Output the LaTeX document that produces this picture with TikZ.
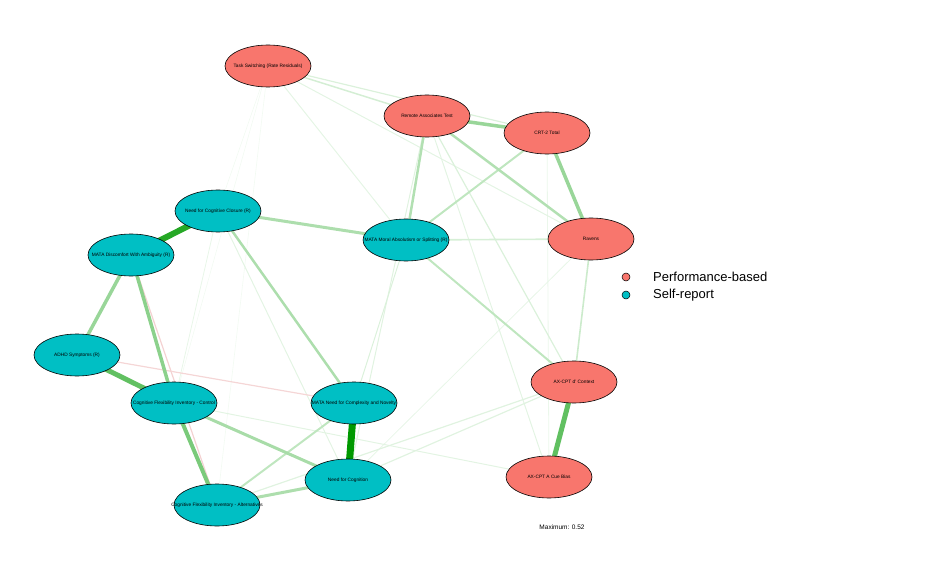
\documentclass[tikz,border=0pt]{standalone}
\usepackage{fontspec}
\setmainfont{Liberation Sans}
\usetikzlibrary{shapes.geometric,backgrounds}
\definecolor{perf}{HTML}{F8766D}
\definecolor{selfr}{HTML}{00BFC4}
\definecolor{eg}{HTML}{009900}
\definecolor{er}{HTML}{CC3333}
\newcommand{\zl}[1]{\makebox[0pt][c]{#1}}
\tikzset{
  netnode/.style={ellipse,draw=black,line width=0.6pt,minimum width=86pt,minimum height=42pt,inner sep=0pt,font=\fontsize{4.8}{5}\selectfont},
  pnode/.style={netnode,fill=perf},
  snode/.style={netnode,fill=selfr},
  legdot/.style={circle,draw=black,line width=0.5pt,minimum size=8pt,inner sep=0pt},
  legtxt/.style={anchor=west,font=\fontsize{13}{15}\selectfont,inner sep=0pt},
  ew/.style n args={2}{draw=#1,line width=#2pt},
}
\begin{document}
\begin{tikzpicture}[x=1pt,y=-1pt]
\useasboundingbox (0,0) rectangle (936,572);
% nodes
\node[pnode] (ts)   at (268,66)  {\zl{Task Switching (Rate Residuals)}};
\node[pnode] (rat)  at (427,116) {\zl{Remote Associates Test}};
\node[pnode] (crt)  at (547,133) {\zl{CRT-2 Total}};
\node[pnode] (rav)  at (591,239) {\zl{Ravens}};
\node[pnode] (axd)  at (574,382) {\zl{AX-CPT d' Context}};
\node[pnode] (axa)  at (549,477) {\zl{AX-CPT A Cue Bias}};
\node[snode] (ncc)  at (218,211) {\zl{Need for Cognitive Closure (R)}};
\node[snode] (mda)  at (131,255) {\zl{MATA Discomfort With Ambiguity (R)}};
\node[snode] (mma)  at (406,240) {\zl{MATA Moral Absolutism or Splitting (R)}};
\node[snode] (adhd) at (77,355)  {\zl{ADHD Symptoms (R)}};
\node[snode] (cfic) at (174,403) {\zl{Cognitive Flexibility Inventory - Control}};
\node[snode] (mnc)  at (354,403) {\zl{MATA Need for Complexity and Novelty}};
\node[snode] (nfc)  at (348,480) {\zl{Need for Cognition}};
\node[snode] (cfia) at (217,505) {\zl{Cognitive Flexibility Inventory - Alternatives}};
% edges
\begin{scope}[on background layer]
\draw[ew={eg!5!white}{0.6}] (ts.center) -- (ncc.center);
\draw[ew={eg!5!white}{0.6}] (ts.center) -- (cfic.center);
\draw[ew={eg!5!white}{0.6}] (ts.center) -- (cfia.center);
\draw[ew={eg!8!white}{0.8}] (crt.center) -- (axa.center);
\draw[ew={eg!9!white}{0.8}] (rav.center) -- (nfc.center);
\draw[ew={eg!9!white}{0.8}] (ncc.center) -- (cfic.center);
\draw[ew={eg!10!white}{1}] (ts.center) -- (mma.center);
\draw[ew={eg!11!white}{1}] (ts.center) -- (rav.center);
\draw[ew={eg!11!white}{1}] (rat.center) -- (axa.center);
\draw[ew={eg!11!white}{1}] (cfic.center) -- (axa.center);
\draw[ew={eg!11!white}{1}] (ncc.center) -- (nfc.center);
\draw[ew={eg!12!white}{1}] (rat.center) -- (nfc.center);
\draw[ew={eg!14!white}{1}] (mma.center) -- (mnc.center);
\draw[ew={eg!12!white}{1.2}] (axd.center) -- (cfia.center);
\draw[ew={eg!12!white}{1.2}] (axd.center) -- (nfc.center);
\draw[ew={eg!14!white}{1.2}] (rat.center) -- (axd.center);
\draw[ew={eg!14!white}{1.2}] (ts.center) -- (crt.center);
\draw[ew={er!22!white}{1.2}] (mda.center) -- (cfia.center);
\draw[ew={er!20!white}{1.2}] (adhd.center) -- (mnc.center);
\draw[ew={eg!17!white}{1.5}] (ts.center) -- (rat.center);
\draw[ew={eg!16!white}{1.6}] (rav.center) -- (mma.center);
\draw[ew={eg!20!white}{1.6}] (rav.center) -- (axd.center);
\draw[ew={eg!25!white}{2}] (crt.center) -- (mma.center);
\draw[ew={eg!25!white}{2}] (mma.center) -- (axd.center);
\draw[ew={eg!25!white}{2}] (cfia.center) -- (mnc.center);
\draw[ew={eg!30!white}{2.5}] (rat.center) -- (mma.center);
\draw[ew={eg!30!white}{2.5}] (rat.center) -- (rav.center);
\draw[ew={eg!32!white}{2.5}] (ncc.center) -- (mnc.center);
\draw[ew={eg!32!white}{3}] (ncc.center) -- (mma.center);
\draw[ew={eg!34!white}{3}] (cfic.center) -- (nfc.center);
\draw[ew={eg!32!white}{3}] (cfia.center) -- (nfc.center);
\draw[ew={eg!40!white}{3.5}] (crt.center) -- (rav.center);
\draw[ew={eg!40!white}{3.5}] (rat.center) -- (crt.center);
\draw[ew={eg!40!white}{3.5}] (mda.center) -- (adhd.center);
\draw[ew={eg!45!white}{3.5}] (mda.center) -- (cfic.center);
\draw[ew={eg!52!white}{4}] (cfic.center) -- (cfia.center);
\draw[ew={eg!62!white}{5}] (adhd.center) -- (cfic.center);
\draw[ew={eg!62!white}{5}] (axd.center) -- (axa.center);
\draw[ew={eg!85!white}{6}] (ncc.center) -- (mda.center);
\draw[ew={eg}{7}] (mnc.center) -- (nfc.center);
\end{scope}
% legend
\node[legdot,fill=perf]  (lp) at (626,277) {};
\node[legdot,fill=selfr] (ls) at (626,295) {};
\node[legtxt] (lpt) at (653,277) {Performance-based};
\node[legtxt] (lst) at (653,295) {Self-report};
\node[font=\fontsize{6.5}{7}\selectfont,inner sep=0pt] (max) at (562,527) {Maximum: 0.52};
\end{tikzpicture}
\end{document}
